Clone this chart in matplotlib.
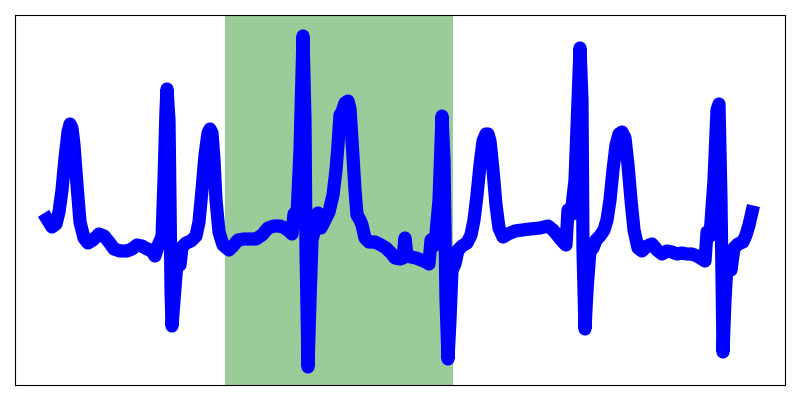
import matplotlib.pyplot as plt

# ECG trace (sample index, amplitude in mV)
samples = [0, 5, 9, 12, 15, 18, 21, 23, 25, 27, 30, 33, 37, 41, 46, 52, 57, 62, 67, 73,
           80, 85, 90, 95, 100, 104, 108, 112, 115, 117, 119, 120, 122, 123, 124, 125, 127, 130, 133, 135,
           139, 144, 149, 152, 155, 158, 161, 163, 165, 167, 169, 172, 176, 182, 186, 191, 197, 203, 209, 215,
           221, 227, 233, 238, 242, 245, 247, 250, 253, 256, 258, 259, 261, 263, 265, 267, 271, 274, 278, 282,
           286, 289, 291, 293, 295, 298, 301, 303, 305, 308, 310, 313, 315, 318, 322, 328, 334, 339, 344, 348,
           353, 356, 358, 360, 364, 369, 374, 379, 382, 384, 388, 392, 395, 397, 399, 401, 403, 405, 408, 411,
           415, 420, 424, 427, 430, 433, 436, 439, 441, 443, 446, 449, 452, 456, 461, 468, 475, 483, 493, 501,
           506, 511, 516, 519, 521, 524, 528, 531, 533, 535, 536, 538, 540, 543, 546, 549, 553, 557, 560, 563,
           566, 569, 572, 575, 578, 581, 584, 587, 591, 595, 600, 605, 610, 615, 620, 625, 630, 635, 640, 645,
           650, 655, 658, 660, 663, 667, 670, 672, 674, 676, 678, 680, 684, 687, 691, 696, 699, 702, 705]
ecg_mv = [0.26, 0.18, 0.21, 0.33, 0.55, 0.87, 1.13, 1.21, 1.17, 1.00, 0.60, 0.23, 0.07, 0.02, 0.05, 0.11, 0.09, 0.03, -0.04, -0.06,
          -0.06, -0.04, 0.00, -0.01, -0.04, -0.05, -0.11, 0.02, 0.08, 0.65, 1.35, 1.56, 1.25, 0.45, -0.45, -0.81, -0.55, -0.17, -0.20, -0.02,
          0.02, 0.04, 0.09, 0.23, 0.55, 0.90, 1.12, 1.16, 1.12, 0.85, 0.45, 0.13, 0.00, -0.05, -0.01, 0.05, 0.06, 0.06, 0.06, 0.10,
          0.17, 0.19, 0.19, 0.17, 0.14, 0.11, 0.31, 0.29, 0.95, 2.09, 1.25, -0.05, -1.22, -0.55, 0.05, 0.13, 0.32, 0.17, 0.25, 0.33,
          0.50, 0.75, 1.00, 1.30, 1.33, 1.42, 1.44, 1.36, 1.05, 0.55, 0.30, 0.25, 0.20, 0.07, 0.03, 0.03, 0.00, -0.03, -0.08, -0.13,
          -0.14, -0.13, 0.07, -0.11, -0.12, -0.13, -0.15, -0.17, -0.19, 0.05, 0.00, 0.45, 1.29, 0.85, -0.55, -1.14, -0.75, -0.25, -0.19, -0.05,
          -0.01, 0.02, 0.10, 0.25, 0.50, 0.80, 1.04, 1.11, 1.11, 1.04, 0.75, 0.40, 0.17, 0.08, 0.11, 0.14, 0.15, 0.16, 0.17, 0.19,
          0.15, 0.09, 0.03, 0.00, 0.35, 0.30, 0.65, 1.45, 1.97, 1.45, -0.05, -0.84, -0.45, -0.05, -0.03, 0.05, 0.09, 0.15, 0.25, 0.45,
          0.75, 1.00, 1.11, 1.13, 1.07, 0.80, 0.45, 0.15, -0.03, -0.06, -0.01, 0.01, -0.05, -0.09, -0.06, -0.07, -0.09, -0.08, -0.09, -0.09,
          -0.11, -0.14, -0.16, 0.13, 0.09, 0.65, 1.35, 1.41, 0.45, -1.07, -0.55, -0.20, -0.25, -0.03, 0.01, 0.03, 0.10, 0.20, 0.33]

# highlighted window
span_start = 178
span_end = 406

fig, ax = plt.subplots(figsize=(8, 4), dpi=100)
fig.subplots_adjust(left=0.01875, right=0.98125, bottom=0.0375, top=0.9625)

ax.axvspan(span_start, span_end, color="green", alpha=0.4, linewidth=0)
ax.plot(samples, ecg_mv, color="blue", linewidth=9.5)

ax.set_xlim(-32, 738)
ax.set_ylim(-1.40, 2.30)
ax.set_xticks([])
ax.set_yticks([])

fig.savefig("out.png")
